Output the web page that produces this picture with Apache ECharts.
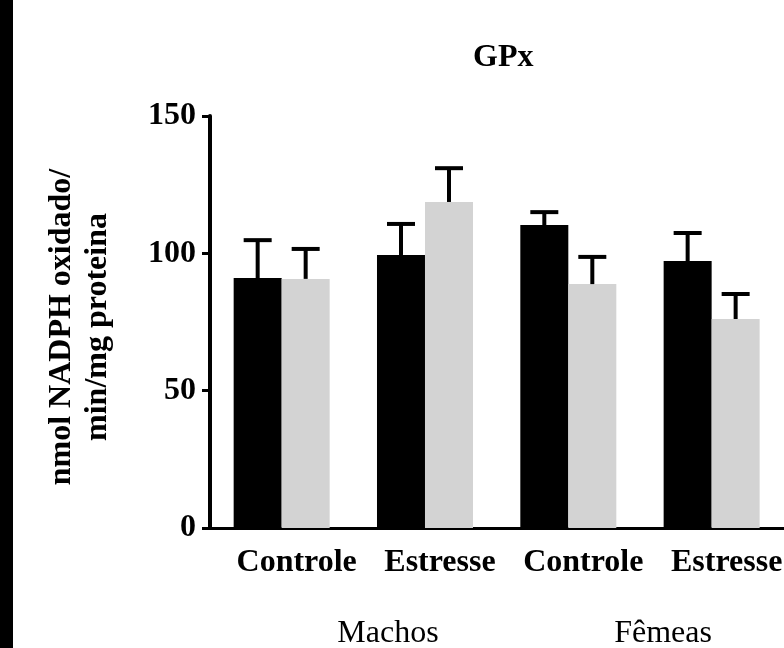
<!DOCTYPE html>
<html>
<head>
<meta charset="utf-8">
<title>GPx</title>
<script src="https://cdn.jsdelivr.net/npm/echarts@6/dist/echarts.min.js"></script>
<style>
  html, body { margin: 0; padding: 0; background: #fff; }
  #chart { width: 784px; height: 648px; }
</style>
</head>
<body>
<div id="chart"></div>
<script>
// valores
var categorias = ['Controle', 'Estresse', 'Controle', 'Estresse'];
var grupos = ['Machos', 'Fêmeas'];
var mediaPreto = [91.0, 99.4, 110.3, 97.2];
var epmPreto = [13.8, 11.3, 4.7, 10.2];
var mediaCinza = [90.7, 118.7, 88.8, 76.1];
var epmCinza = [10.9, 12.3, 9.9, 9.1];
var yTicks = [0, 50, 100, 150];

var fonte = "'Liberation Serif', 'Times New Roman', serif";
var larguraBarra = 48;

function dadosErro(medias, epm) {
    return medias.map(function (m, i) { return [i, m, m + epm[i]]; });
}

function barraErro(desloc) {
    return function (params, api) {
        var x = api.coord([api.value(0), 0])[0] + desloc;
        var yMedia = api.coord([api.value(0), api.value(1)])[1];
        var yTopo = api.coord([api.value(0), api.value(2)])[1];
        return {
            type: 'group',
            children: [
                { type: 'line', shape: { x1: x, y1: yMedia, x2: x, y2: yTopo }, style: { stroke: '#000', lineWidth: 4 } },
                { type: 'line', shape: { x1: x - 14, y1: yTopo, x2: x + 14, y2: yTopo }, style: { stroke: '#000', lineWidth: 4 } }
            ]
        };
    };
}

var chart = echarts.init(document.getElementById('chart'));
chart.setOption({
    animation: false,
    backgroundColor: '#fff',
    title: {
        text: 'GPx',
        left: 473,
        top: 42,
        padding: 0,
        textStyle: { fontFamily: fonte, fontSize: 32, fontWeight: 'bold', color: '#000' }
    },
    grid: { left: 210, top: 116, width: 584, height: 412 },
    xAxis: {
        type: 'category',
        data: categorias,
        axisLine: { lineStyle: { color: '#000', width: 3 } },
        axisTick: { alignWithLabel: true, length: 12, lineStyle: { color: '#000', width: 3 } },
        axisLabel: {
            interval: 0,
            margin: 19,
            padding: [0, 0, 0, 30],
            fontFamily: fonte, fontSize: 32, fontWeight: 'bold', color: '#000'
        }
    },
    yAxis: {
        type: 'value',
        min: yTicks[0],
        max: yTicks[yTicks.length - 1],
        interval: 50,
        splitLine: { show: false },
        axisLine: { show: true, lineStyle: { color: '#000', width: 4 } },
        axisTick: { show: true, length: 8, lineStyle: { color: '#000', width: 3 } },
        axisLabel: { margin: 14, fontFamily: fonte, fontSize: 32, fontWeight: 'bold', color: '#000' }
    },
    graphic: [
        { type: 'rect', left: 0, top: 0, shape: { width: 13, height: 648 }, style: { fill: '#000' } },
        {
            type: 'text', x: 80, y: 327, rotation: Math.PI / 2,
            style: {
                text: 'nmol NADPH oxidado/\nmin/mg proteina',
                font: 'bold 32px ' + fonte, fill: '#000',
                align: 'center', verticalAlign: 'middle', lineHeight: 36
            }
        },
        { type: 'text', x: 388, y: 634, style: { text: grupos[0], font: '32px ' + fonte, fill: '#000', align: 'center', verticalAlign: 'middle' } },
        { type: 'text', x: 663, y: 634, style: { text: grupos[1], font: '32px ' + fonte, fill: '#000', align: 'center', verticalAlign: 'middle' } }
    ],
    series: [
        { name: 'preto', type: 'bar', data: mediaPreto, barWidth: larguraBarra, barGap: '0%', itemStyle: { color: '#000' } },
        { name: 'cinza', type: 'bar', data: mediaCinza, barWidth: larguraBarra, barGap: '0%', itemStyle: { color: '#d3d3d3' } },
        { type: 'custom', data: dadosErro(mediaPreto, epmPreto), renderItem: barraErro(-larguraBarra / 2), z: 5 },
        { type: 'custom', data: dadosErro(mediaCinza, epmCinza), renderItem: barraErro(larguraBarra / 2), z: 5 }
    ]
});
</script>
</body>
</html>
